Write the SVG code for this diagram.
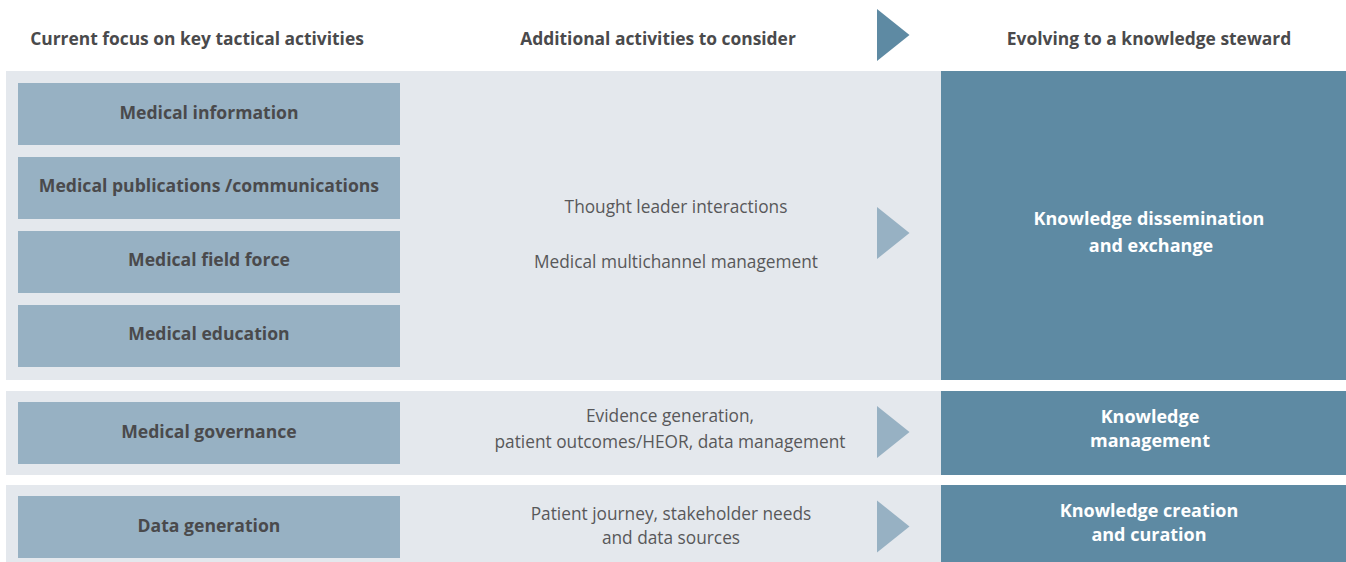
<svg xmlns="http://www.w3.org/2000/svg" width="1346" height="562" viewBox="0 0 1346 562">
  <style>
    .band { fill: #e4e8ed; }
    .box { fill: #97b1c3; }
    .dark { fill: #5e8aa3; }
    .tri-light { fill: #97b1c3; }
    .tri-dark { fill: #5e8aa3; }
    text { font-family: "Open Sans", "Liberation Sans", sans-serif; text-anchor: middle; }
    .head { font-size: 17.4px; font-weight: 700; fill: #4a4a4c; }
    .lbl { font-size: 17.6px; font-weight: 700; fill: #4a4a4c; }
    .mid { font-size: 17.3px; font-weight: 400; fill: #58585a; }
    .wht { font-size: 18px; font-weight: 700; fill: #ffffff; }
  </style>
  <rect width="1346" height="562" fill="#ffffff"/>

  <!-- column headings -->
  <g id="headings">
    <text class="head" x="197" y="45">Current focus on key tactical activities</text>
    <text class="head" x="658" y="45">Additional activities to consider</text>
    <text class="head" x="1149" y="45">Evolving to a knowledge steward</text>
    <polygon class="tri-dark" points="877,9 909.5,35 877,61"/>
  </g>

  <!-- background bands -->
  <g id="bands">
    <rect class="band" x="6" y="71" width="1340" height="309"/>
    <rect class="band" x="6" y="391" width="1340" height="84"/>
    <rect class="band" x="6" y="485" width="1340" height="77"/>
  </g>

  <!-- current activities -->
  <g id="medical-information">
    <rect class="box" x="18" y="83" width="382" height="62"/>
    <text class="lbl" x="209" y="119">Medical information</text>
  </g>
  <g id="medical-publications">
    <rect class="box" x="18" y="157" width="382" height="62"/>
    <text class="lbl" x="209" y="192">Medical publications /communications</text>
  </g>
  <g id="medical-field-force">
    <rect class="box" x="18" y="231" width="382" height="62"/>
    <text class="lbl" x="209" y="266">Medical field force</text>
  </g>
  <g id="medical-education">
    <rect class="box" x="18" y="305" width="382" height="62"/>
    <text class="lbl" x="209" y="340">Medical education</text>
  </g>
  <g id="medical-governance">
    <rect class="box" x="18" y="402" width="382" height="62"/>
    <text class="lbl" x="209" y="438">Medical governance</text>
  </g>
  <g id="data-generation">
    <rect class="box" x="18" y="496" width="382" height="62"/>
    <text class="lbl" x="209" y="532">Data generation</text>
  </g>

  <!-- additional activities -->
  <g id="additional-1">
    <text class="mid" x="676" y="213">Thought leader interactions</text>
    <text class="mid" x="676" y="268">Medical multichannel management</text>
  </g>
  <g id="additional-2">
    <text class="mid" x="670" y="422">Evidence generation,</text>
    <text class="mid" x="670" y="448">patient outcomes/HEOR, data management</text>
  </g>
  <g id="additional-3">
    <text class="mid" x="671" y="520">Patient journey, stakeholder needs</text>
    <text class="mid" x="671" y="544">and data sources</text>
  </g>

  <!-- steward roles -->
  <g id="knowledge-dissemination">
    <rect class="dark" x="941" y="71" width="405" height="309"/>
    <text class="wht" x="1149" y="225">Knowledge dissemination</text>
    <text class="wht" x="1151" y="252">and exchange</text>
  </g>
  <g id="knowledge-management">
    <rect class="dark" x="941" y="391" width="405" height="84"/>
    <text class="wht" x="1150" y="423">Knowledge</text>
    <text class="wht" x="1150" y="447">management</text>
  </g>
  <g id="knowledge-creation">
    <rect class="dark" x="941" y="485" width="405" height="77"/>
    <text class="wht" x="1149" y="517">Knowledge creation</text>
    <text class="wht" x="1149" y="541">and curation</text>
  </g>

  <!-- progression arrows -->
  <g id="connectors">
    <polygon class="tri-light" points="877,207 909.5,233 877,259"/>
    <polygon class="tri-light" points="877,406 909.5,432 877,458"/>
    <polygon class="tri-light" points="877,500.5 909.5,526.5 877,552.5"/>
  </g>
</svg>
